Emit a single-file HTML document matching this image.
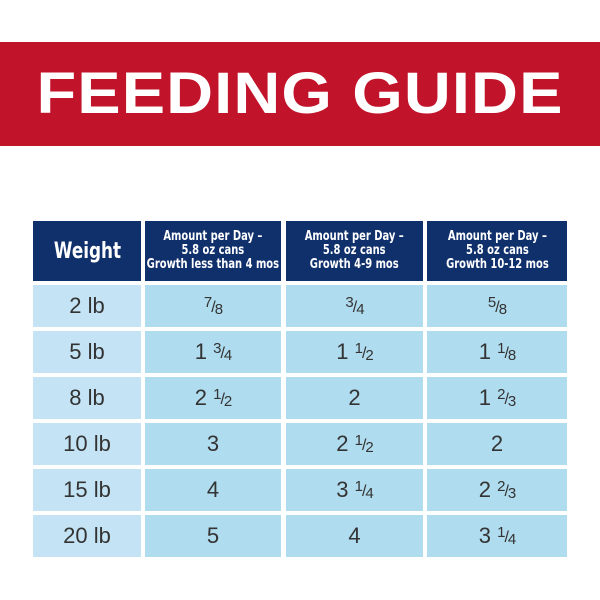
<!DOCTYPE html>
<html><head><style>
body{margin:0;width:600px;height:600px;background:#fff;position:relative;overflow:hidden;font-family:"Liberation Sans",sans-serif}
.band{position:absolute;left:0;top:42px;width:600px;height:104px;background:#c1132a}
.title{position:absolute;left:0;top:42px;width:600px;height:104px;line-height:104px;text-align:center;color:#fff;font-weight:bold;font-size:58px;letter-spacing:1px;transform:scaleX(1.12)}
.c{position:absolute;display:flex;align-items:center;justify-content:center;text-align:center}
.h{background:#10306c;color:#fff;font-weight:bold;font-family:"DejaVu Sans Condensed","Liberation Sans Narrow","Liberation Sans",sans-serif}
.hs{font-size:13px;line-height:14px;transform:scaleX(.85);white-space:nowrap}
.w{background:#c4e4f5;color:#333;font-size:22px}
.v{background:#b0dcef;color:#333;font-size:22px}
.f{font-size:16px;letter-spacing:-1px}
.f sup{font-size:15px;vertical-align:5px}
.f sub{font-size:15px;vertical-align:-2px}
</style></head><body>
<div class="band"></div>
<div class="title">FEEDING GUIDE</div>

<div class="c h" style="left:33px;top:221px;width:108px;height:60px"><span style="font-size:22px;transform:scaleX(.85)">Weight</span></div>
<div class="c h" style="left:145px;top:221px;width:136px;height:60px"><div class="hs">Amount per Day –<br>5.8 oz cans<br>Growth less than 4 mos</div></div>
<div class="c h" style="left:286px;top:221px;width:137px;height:60px"><div class="hs">Amount per Day –<br>5.8 oz cans<br>Growth 4-9 mos</div></div>
<div class="c h" style="left:427px;top:221px;width:140px;height:60px"><div class="hs">Amount per Day –<br>5.8 oz cans<br>Growth 10-12 mos</div></div>

<div class="c w" style="left:33px;top:285px;width:108px;height:42px">2 lb</div>
<div class="c v" style="left:145px;top:285px;width:136px;height:42px"><span class="f"><sup>7</sup>/<sub>8</sub></span></div>
<div class="c v" style="left:286px;top:285px;width:137px;height:42px"><span class="f"><sup>3</sup>/<sub>4</sub></span></div>
<div class="c v" style="left:427px;top:285px;width:140px;height:42px"><span class="f"><sup>5</sup>/<sub>8</sub></span></div>

<div class="c w" style="left:33px;top:331px;width:108px;height:42px">5 lb</div>
<div class="c v" style="left:145px;top:331px;width:136px;height:42px">1&nbsp;<span class="f"><sup>3</sup>/<sub>4</sub></span></div>
<div class="c v" style="left:286px;top:331px;width:137px;height:42px">1&nbsp;<span class="f"><sup>1</sup>/<sub>2</sub></span></div>
<div class="c v" style="left:427px;top:331px;width:140px;height:42px">1&nbsp;<span class="f"><sup>1</sup>/<sub>8</sub></span></div>

<div class="c w" style="left:33px;top:377px;width:108px;height:42px">8 lb</div>
<div class="c v" style="left:145px;top:377px;width:136px;height:42px">2&nbsp;<span class="f"><sup>1</sup>/<sub>2</sub></span></div>
<div class="c v" style="left:286px;top:377px;width:137px;height:42px">2</div>
<div class="c v" style="left:427px;top:377px;width:140px;height:42px">1&nbsp;<span class="f"><sup>2</sup>/<sub>3</sub></span></div>

<div class="c w" style="left:33px;top:423px;width:108px;height:42px">10 lb</div>
<div class="c v" style="left:145px;top:423px;width:136px;height:42px">3</div>
<div class="c v" style="left:286px;top:423px;width:137px;height:42px">2&nbsp;<span class="f"><sup>1</sup>/<sub>2</sub></span></div>
<div class="c v" style="left:427px;top:423px;width:140px;height:42px">2</div>

<div class="c w" style="left:33px;top:469px;width:108px;height:42px">15 lb</div>
<div class="c v" style="left:145px;top:469px;width:136px;height:42px">4</div>
<div class="c v" style="left:286px;top:469px;width:137px;height:42px">3&nbsp;<span class="f"><sup>1</sup>/<sub>4</sub></span></div>
<div class="c v" style="left:427px;top:469px;width:140px;height:42px">2&nbsp;<span class="f"><sup>2</sup>/<sub>3</sub></span></div>

<div class="c w" style="left:33px;top:515px;width:108px;height:42px">20 lb</div>
<div class="c v" style="left:145px;top:515px;width:136px;height:42px">5</div>
<div class="c v" style="left:286px;top:515px;width:137px;height:42px">4</div>
<div class="c v" style="left:427px;top:515px;width:140px;height:42px">3&nbsp;<span class="f"><sup>1</sup>/<sub>4</sub></span></div>
</body></html>
